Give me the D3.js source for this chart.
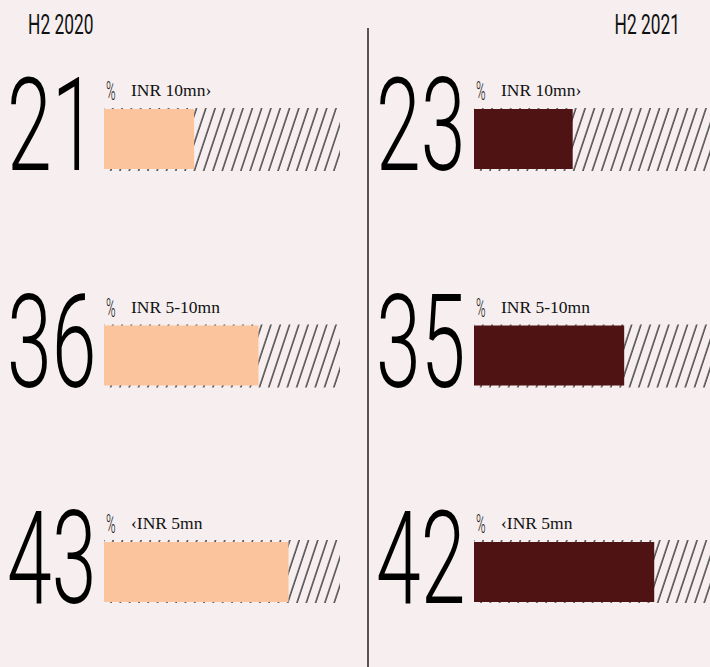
<!DOCTYPE html>
<html>
<head>
<meta charset="utf-8">
<script src="https://cdn.jsdelivr.net/npm/d3@7"></script>
<style>
  html, body { margin: 0; padding: 0; background: #f6eeef; }
  svg { display: block; }
  .big { font-family: Roboto, sans-serif; font-weight: 300; fill: #000; }
  .head { font-family: Roboto, sans-serif; font-weight: 400; fill: #111; }
  .pct { font-family: Roboto, sans-serif; font-weight: 300; fill: #222; }
  .lbl { font-family: "Liberation Serif", serif; fill: #111; }
</style>
</head>
<body>
<div id="chart"></div>
<script>
// data
const categories = ["INR 10mn\u203a", "INR 5-10mn", "\u2039INR 5mn"];
const periods = ["H2 2020", "H2 2021"];
const share2020 = [21, 36, 43];
const share2021 = [23, 35, 42];
const barColors = ["#fbc49c", "#501313"];

const W = 710, H = 667;
const panelShift = 370;      // distance between the two panels
const barStart = 104;        // left edge of the bars in a panel
const trackW = 236;
const barH = 60;

const svg = d3.select("#chart").append("svg")
    .attr("width", W)
    .attr("height", H);

svg.append("rect").attr("width", W).attr("height", H).attr("fill", "#f6eeef");

// hatch for the empty part of the track
const defs = svg.append("defs");
const pat = defs.append("pattern")
    .attr("id", "hatch")
    .attr("patternUnits", "userSpaceOnUse")
    .attr("width", 9.3)
    .attr("height", 20)
    .attr("patternTransform", "skewX(-18.4)");
pat.append("line")
    .attr("x1", 1).attr("x2", 1)
    .attr("y1", -1).attr("y2", 21)
    .attr("stroke", "#000")
    .attr("stroke-width", 1.1);

const x = d3.scaleLinear().domain([0, 55]).range([0, trackW]);
const y = d3.scalePoint().domain(categories).range([109, 542]);

// divider
svg.append("line")
    .attr("x1", 368).attr("x2", 368)
    .attr("y1", 28).attr("y2", H)
    .attr("stroke", "#555")
    .attr("stroke-width", 2);

const series = [share2020, share2021];

series.forEach((values, p) => {
    const g = svg.append("g").attr("transform", `translate(${p * panelShift},0)`);

    // period heading
    const head = g.append("g")
        .attr("transform", p === 0 ? "translate(28,34) scale(0.62,1)" : `translate(${680 - panelShift},34) scale(0.62,1)`);
    head.append("text")
        .attr("class", "head")
        .attr("font-size", 28)
        .attr("text-anchor", p === 0 ? "start" : "end")
        .text(periods[p]);

    const rows = g.selectAll(".row")
        .data(categories.map((c, i) => ({ cat: c, v: values[i] })))
        .enter().append("g")
        .attr("class", "row")
        .attr("transform", d => `translate(0,${y(d.cat)})`);

    // hatched track
    rows.append("rect")
        .attr("x", barStart)
        .attr("y", (d, i) => i === 2 ? -2 : -1)
        .attr("width", trackW)
        .attr("height", barH + 3)
        .attr("fill", "url(#hatch)");

    rows.append("rect")
        .attr("x", barStart)
        .attr("y", 0)
        .attr("width", d => x(d.v))
        .attr("height", barH)
        .attr("fill", barColors[p]);

    // big number
    rows.append("g")
        .attr("transform", `translate(${p === 0 ? 7 : 6},${barH + 1}) scale(0.62,1)`)
        .append("text")
        .attr("class", "big")
        .attr("font-size", 130)
        .text(d => d.v);

    rows.append("g")
        .attr("transform", `translate(${barStart + 2},-9) scale(0.5,1)`)
        .append("text")
        .attr("class", "pct")
        .attr("font-size", 26)
        .text("%");

    rows.append("text")
        .attr("class", "lbl")
        .attr("x", barStart + 27)
        .attr("y", -13)
        .attr("font-size", 17.5)
        .text(d => d.cat);
});
</script>
</body>
</html>
